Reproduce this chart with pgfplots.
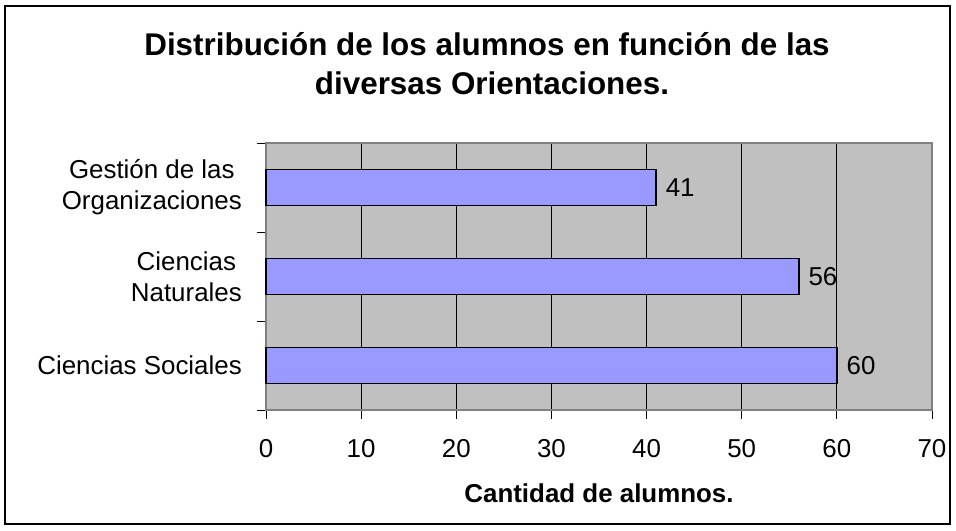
\documentclass[border=0pt]{standalone}
\usepackage{pgfplots}
\pgfplotsset{compat=1.18}
\usepackage{fontspec}
\setmainfont{Liberation Sans}
\definecolor{barfill}{HTML}{9999FF}
\definecolor{plotbg}{HTML}{C0C0C0}
\definecolor{frameg}{HTML}{808080}
\begin{document}
\begin{tikzpicture}
\path (0bp,0bp) rectangle (956bp,531bp);
\draw[line width=1.5bp] (5bp,7bp) rectangle (950bp,525bp);
\node[anchor=base, font=\bfseries\fontsize{31.5}{34}\selectfont, inner sep=0pt] at (487bp,475bp) {Distribución de los alumnos en función de las};
\node[anchor=base, font=\bfseries\fontsize{31.5}{34}\selectfont, inner sep=0pt] at (492bp,436bp) {diversas Orientaciones.};
\node[anchor=base, font=\bfseries\fontsize{26}{30}\selectfont, inner sep=0pt] at (599bp,29bp) {Cantidad de alumnos.};
\begin{axis}[
  at={(266bp,121bp)}, anchor=south west,
  scale only axis, width=666bp, height=267bp,
  xbar, bar width=0.4,
  xmin=0, xmax=70, ymin=-0.5, ymax=2.5,
  xtick={0,10,...,70},
  ytick={-0.5,0.5,1.5,2.5}, yticklabels={},
  xtick pos=bottom, ytick pos=left,
  extra y ticks={0,1,2},
  extra y tick labels={Ciencias Sociales,{Ciencias\\Naturales},{Gestión de las\\Organizaciones}},
  extra y tick style={major tick length=0pt, yticklabel style={align=center, anchor=east, inner sep=0pt, xshift=-24bp, font=\fontsize{26}{31}\selectfont}},
  tick align=outside, major tick length=9bp,
  tick style={black, line width=0.8bp},
  xmajorgrids, major grid style={black, line width=0.8bp},
  axis background/.style={fill=plotbg},
  axis line style={frameg, line width=1.5bp},
  xticklabel style={font=\fontsize{26}{28}\selectfont, inner sep=0pt, yshift=-20bp},
  /pgf/number format/assume math mode=true,
  nodes near coords,
  nodes near coords style={font=\fontsize{26}{28}\selectfont, anchor=west, inner sep=0pt, xshift=9bp, black},
  clip=false,
]
\addplot[xbar, fill=barfill, draw=black, line width=1.5bp] coordinates {(60,0) (56,1) (41,2)};
\end{axis}
\end{tikzpicture}
\end{document}
